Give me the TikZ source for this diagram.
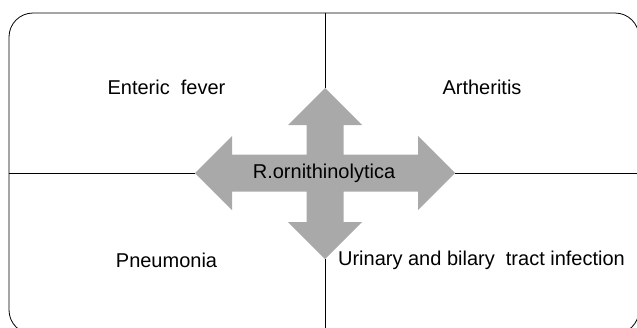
\documentclass[tikz,border=0pt]{standalone}
\usepackage{fontspec}
\setmainfont{Liberation Sans}

\definecolor{crossgray}{RGB}{169,169,169}

\tikzset{
  frame/.style={draw, line width=0.8pt, rounded corners=24pt},
  divider/.style={draw, line width=0.8pt},
  cross/.style={fill=crossgray, draw=none},
  disease/.style={font=\fontsize{20}{24}\selectfont, inner sep=0pt},
}

\begin{document}
\begin{tikzpicture}[x=1pt, y=-1pt]

    \useasboundingbox (0,0) rectangle (637,327);
    \clip (0,0) rectangle (637,327);

    % Frame
    \draw[frame] (9,13) rectangle (639,334);

    % Points on the frame and arrow tips
    \coordinate (boxN) at (325,13); % top edge
    \coordinate (boxS) at (325,334); % bottom edge
    \coordinate (boxW) at (9,173); % left edge
    \coordinate (boxE) at (639,173); % right edge
    \coordinate (tipN) at (325,88); % tip of upper arrow
    \coordinate (tipS) at (325,259); % tip of lower arrow
    \coordinate (tipW) at (195,173); % tip of left arrow
    \coordinate (tipE) at (455,173); % tip of right arrow

    % Dividers
    \draw[divider] (boxN) -- (tipN);
    \draw[divider] (boxS) -- (tipS);
    \draw[divider] (boxW) -- (tipW);
    \draw[divider] (boxE) -- (tipE);

    % Four-way arrow
    \path[cross] (tipN) -- (362,125) -- (343.5,125) -- (343.5,154.5)
      -- (418,154.5) -- (418,136) -- (tipE) -- (418,210) -- (418,191.5)
      -- (343.5,191.5) -- (343.5,222) -- (362,222) -- (tipS) -- (288,222)
      -- (306.5,222) -- (306.5,191.5) -- (232,191.5) -- (232,210) -- (tipW)
      -- (232,136) -- (232,154.5) -- (306.5,154.5) -- (306.5,125)
      -- (288,125) -- cycle;

    % Nodes
    \node[disease] (bact) at (324,173) {R.ornithinolytica}; % organism
    \node[disease] (enteric) at (166.5,87) {Enteric\ \ fever}; % upper left
    \node[disease] (arth) at (482,87) {Artheritis}; % upper right
    \node[disease] (pneu) at (166.5,260) {Pneumonia}; % lower left
    \node[disease] (uti) at (481.5,260) {Urinary and bilary\ \ tract infection}; % lower right

\end{tikzpicture}
\end{document}
